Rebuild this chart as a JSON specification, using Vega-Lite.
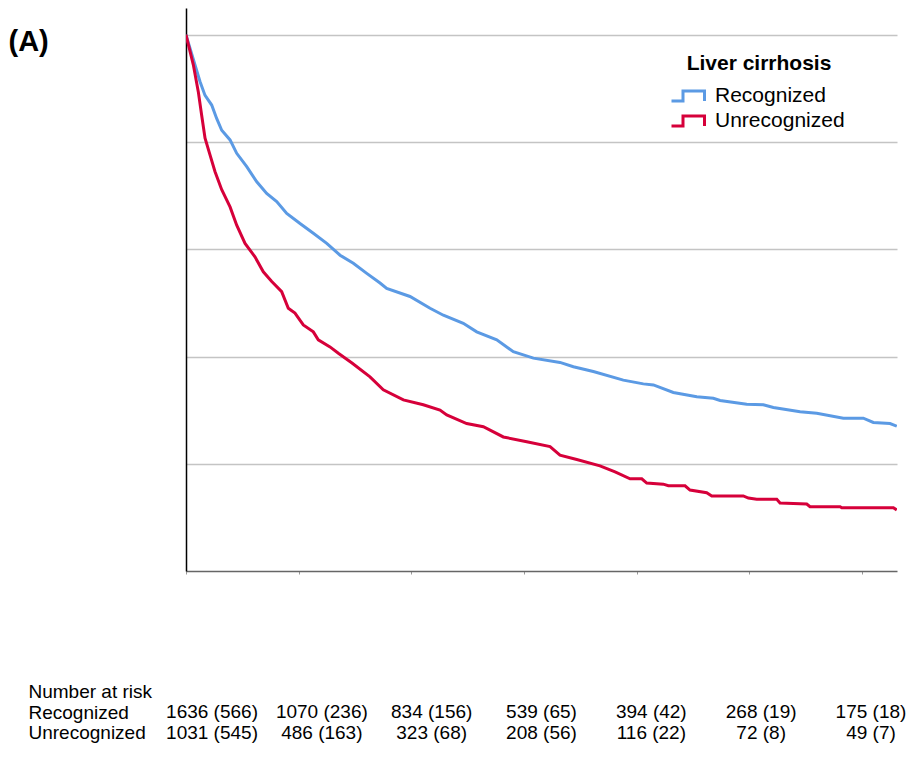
{
  "$schema": "https://vega.github.io/schema/vega-lite/v6.json",
  "padding": {"left": 8, "top": 8, "right": 5, "bottom": 5},
  "config": {"view": {"stroke": null}, "font": "Liberation Sans"},
  "spacing": 106,
  "datasets": {
    "km": [
      {"group": "Recognized", "years": 0, "survival": 1.0},
      {"group": "Recognized", "years": 0.08, "survival": 0.944},
      {"group": "Recognized", "years": 0.124, "survival": 0.913},
      {"group": "Recognized", "years": 0.169, "survival": 0.887},
      {"group": "Recognized", "years": 0.228, "survival": 0.869},
      {"group": "Recognized", "years": 0.272, "survival": 0.844},
      {"group": "Recognized", "years": 0.317, "survival": 0.822},
      {"group": "Recognized", "years": 0.391, "survival": 0.804},
      {"group": "Recognized", "years": 0.45, "survival": 0.779},
      {"group": "Recognized", "years": 0.539, "survival": 0.754},
      {"group": "Recognized", "years": 0.628, "survival": 0.726},
      {"group": "Recognized", "years": 0.716, "survival": 0.704},
      {"group": "Recognized", "years": 0.805, "survival": 0.689},
      {"group": "Recognized", "years": 0.894, "survival": 0.667},
      {"group": "Recognized", "years": 1.012, "survival": 0.648},
      {"group": "Recognized", "years": 1.13, "survival": 0.63},
      {"group": "Recognized", "years": 1.249, "survival": 0.611},
      {"group": "Recognized", "years": 1.367, "survival": 0.589},
      {"group": "Recognized", "years": 1.485, "survival": 0.574},
      {"group": "Recognized", "years": 1.604, "survival": 0.555},
      {"group": "Recognized", "years": 1.722, "survival": 0.537},
      {"group": "Recognized", "years": 1.781, "survival": 0.527},
      {"group": "Recognized", "years": 1.988, "survival": 0.512},
      {"group": "Recognized", "years": 2.166, "survival": 0.49},
      {"group": "Recognized", "years": 2.284, "survival": 0.477},
      {"group": "Recognized", "years": 2.461, "survival": 0.462},
      {"group": "Recognized", "years": 2.58, "survival": 0.446},
      {"group": "Recognized", "years": 2.758, "survival": 0.431},
      {"group": "Recognized", "years": 2.905, "survival": 0.409},
      {"group": "Recognized", "years": 3.083, "survival": 0.397},
      {"group": "Recognized", "years": 3.319, "survival": 0.389},
      {"group": "Recognized", "years": 3.438, "survival": 0.381},
      {"group": "Recognized", "years": 3.615, "survival": 0.372},
      {"group": "Recognized", "years": 3.881, "survival": 0.356},
      {"group": "Recognized", "years": 4.059, "survival": 0.349},
      {"group": "Recognized", "years": 4.148, "survival": 0.347},
      {"group": "Recognized", "years": 4.325, "survival": 0.333},
      {"group": "Recognized", "years": 4.533, "survival": 0.325},
      {"group": "Recognized", "years": 4.68, "survival": 0.322},
      {"group": "Recognized", "years": 4.74, "survival": 0.318},
      {"group": "Recognized", "years": 4.976, "survival": 0.311},
      {"group": "Recognized", "years": 5.124, "survival": 0.31},
      {"group": "Recognized", "years": 5.213, "survival": 0.305},
      {"group": "Recognized", "years": 5.45, "survival": 0.297},
      {"group": "Recognized", "years": 5.598, "survival": 0.294},
      {"group": "Recognized", "years": 5.834, "survival": 0.285},
      {"group": "Recognized", "years": 6.011, "survival": 0.285},
      {"group": "Recognized", "years": 6.1, "survival": 0.277},
      {"group": "Recognized", "years": 6.248, "survival": 0.275},
      {"group": "Recognized", "years": 6.308, "survival": 0.27},
      {"group": "Unrecognized", "years": 0, "survival": 1.0},
      {"group": "Unrecognized", "years": 0.065, "survival": 0.944},
      {"group": "Unrecognized", "years": 0.109, "survival": 0.894},
      {"group": "Unrecognized", "years": 0.139, "survival": 0.85},
      {"group": "Unrecognized", "years": 0.169, "survival": 0.807},
      {"group": "Unrecognized", "years": 0.213, "survival": 0.776},
      {"group": "Unrecognized", "years": 0.257, "survival": 0.745},
      {"group": "Unrecognized", "years": 0.317, "survival": 0.711},
      {"group": "Unrecognized", "years": 0.391, "survival": 0.679},
      {"group": "Unrecognized", "years": 0.45, "survival": 0.645},
      {"group": "Unrecognized", "years": 0.524, "survival": 0.611},
      {"group": "Unrecognized", "years": 0.612, "survival": 0.586},
      {"group": "Unrecognized", "years": 0.686, "survival": 0.558},
      {"group": "Unrecognized", "years": 0.761, "survival": 0.54},
      {"group": "Unrecognized", "years": 0.849, "survival": 0.521},
      {"group": "Unrecognized", "years": 0.908, "survival": 0.49},
      {"group": "Unrecognized", "years": 0.967, "survival": 0.481},
      {"group": "Unrecognized", "years": 1.041, "survival": 0.459},
      {"group": "Unrecognized", "years": 1.13, "survival": 0.446},
      {"group": "Unrecognized", "years": 1.174, "survival": 0.431},
      {"group": "Unrecognized", "years": 1.278, "survival": 0.418},
      {"group": "Unrecognized", "years": 1.352, "survival": 0.406},
      {"group": "Unrecognized", "years": 1.473, "survival": 0.388},
      {"group": "Unrecognized", "years": 1.633, "survival": 0.362},
      {"group": "Unrecognized", "years": 1.751, "survival": 0.338},
      {"group": "Unrecognized", "years": 1.929, "survival": 0.319},
      {"group": "Unrecognized", "years": 2.106, "survival": 0.31},
      {"group": "Unrecognized", "years": 2.254, "survival": 0.3},
      {"group": "Unrecognized", "years": 2.314, "survival": 0.291},
      {"group": "Unrecognized", "years": 2.491, "survival": 0.275},
      {"group": "Unrecognized", "years": 2.639, "survival": 0.269},
      {"group": "Unrecognized", "years": 2.816, "survival": 0.25},
      {"group": "Unrecognized", "years": 3.024, "survival": 0.241},
      {"group": "Unrecognized", "years": 3.231, "survival": 0.232},
      {"group": "Unrecognized", "years": 3.319, "survival": 0.216},
      {"group": "Unrecognized", "years": 3.468, "survival": 0.208},
      {"group": "Unrecognized", "years": 3.674, "survival": 0.196},
      {"group": "Unrecognized", "years": 3.808, "survival": 0.185},
      {"group": "Unrecognized", "years": 3.941, "survival": 0.172},
      {"group": "Unrecognized", "years": 4.045, "survival": 0.172},
      {"group": "Unrecognized", "years": 4.089, "survival": 0.164},
      {"group": "Unrecognized", "years": 4.236, "survival": 0.162},
      {"group": "Unrecognized", "years": 4.281, "survival": 0.159},
      {"group": "Unrecognized", "years": 4.429, "survival": 0.159},
      {"group": "Unrecognized", "years": 4.473, "survival": 0.151},
      {"group": "Unrecognized", "years": 4.621, "survival": 0.146},
      {"group": "Unrecognized", "years": 4.666, "survival": 0.14},
      {"group": "Unrecognized", "years": 4.946, "survival": 0.14},
      {"group": "Unrecognized", "years": 4.991, "survival": 0.136},
      {"group": "Unrecognized", "years": 5.065, "survival": 0.134},
      {"group": "Unrecognized", "years": 5.243, "survival": 0.134},
      {"group": "Unrecognized", "years": 5.272, "survival": 0.127},
      {"group": "Unrecognized", "years": 5.39, "survival": 0.126},
      {"group": "Unrecognized", "years": 5.509, "survival": 0.125},
      {"group": "Unrecognized", "years": 5.538, "survival": 0.12},
      {"group": "Unrecognized", "years": 5.805, "survival": 0.12},
      {"group": "Unrecognized", "years": 5.82, "survival": 0.118},
      {"group": "Unrecognized", "years": 6.278, "survival": 0.118},
      {"group": "Unrecognized", "years": 6.308, "survival": 0.114}
    ],
    "risk": [
      {"row": "Recognized", "year": 0, "label": "1636 (566)"},
      {"row": "Recognized", "year": 1, "label": "1070 (236)"},
      {"row": "Recognized", "year": 2, "label": "834 (156)"},
      {"row": "Recognized", "year": 3, "label": "539 (65)"},
      {"row": "Recognized", "year": 4, "label": "394 (42)"},
      {"row": "Recognized", "year": 5, "label": "268 (19)"},
      {"row": "Recognized", "year": 6, "label": "175 (18)"},
      {"row": "Unrecognized", "year": 0, "label": "1031 (545)"},
      {"row": "Unrecognized", "year": 1, "label": "486 (163)"},
      {"row": "Unrecognized", "year": 2, "label": "323 (68)"},
      {"row": "Unrecognized", "year": 3, "label": "208 (56)"},
      {"row": "Unrecognized", "year": 4, "label": "116 (22)"},
      {"row": "Unrecognized", "year": 5, "label": "72 (8)"},
      {"row": "Unrecognized", "year": 6, "label": "49 (7)"}
    ]
  },
  "vconcat": [
    {
      "width": 711,
      "height": 563,
      "data": {"name": "km"},
      "mark": {"type": "line", "strokeWidth": 3, "interpolate": "linear", "clip": true},
      "encoding": {
        "x": {
          "field": "years", "type": "quantitative",
          "scale": {"domain": [0, 6.31], "nice": false, "zero": false},
          "axis": {"values": [0, 1, 2, 3, 4, 5, 6], "labels": false, "title": null, "grid": false,
                   "tickSize": 3, "tickColor": "#999999", "domainColor": "#666666", "domainWidth": 1.5}
        },
        "y": {
          "field": "survival", "type": "quantitative",
          "scale": {"domain": [0, 1.05], "nice": false},
          "axis": {"values": [0.2, 0.4, 0.6, 0.8, 1.0], "labels": false, "ticks": false,
                   "grid": true, "gridColor": "#c4c4c4", "gridWidth": 1.5,
                   "domainColor": "#000000", "domainWidth": 1.5,
                   "title": "(A)", "titleAngle": 0, "titleX": -178, "titleY": 42,
                   "titleAlign": "left", "titleBaseline": "alphabetic",
                   "titleFontSize": 29, "titleFontWeight": "bold", "titleColor": "#000000"}
        },
        "color": {
          "field": "group", "type": "nominal",
          "scale": {"domain": ["Recognized", "Unrecognized"], "range": ["#5b9ae4", "#d6003a"]},
          "legend": {
            "title": "Liver cirrhosis", "orient": "none", "legendX": 488, "legendY": 45,
            "padding": 0, "titleFontSize": 21, "titleFontWeight": "bold", "titleColor": "#000000",
            "titleAnchor": "middle", "titleAlign": "center", "titlePadding": 8,
            "labelFontSize": 21, "labelColor": "#000000", "labelOffset": 13, "rowPadding": 0,
            "symbolType": "M-1.32,0.4H-0.4V-0.4H1.32V0.4", "symbolSize": 625, "symbolStrokeWidth": 3,
            "symbolFillColor": "transparent",
            "encode": {"symbols": {"update": {"fill": {"value": "transparent"}, "strokeWidth": {"value": 3}}}}
          }
        }
      }
    },
    {
      "width": 711,
      "height": 62,
      "data": {"name": "risk"},
      "mark": {"type": "text", "fontSize": 19, "align": "center", "baseline": "middle", "color": "#000000"},
      "encoding": {
        "x": {"field": "year", "type": "ordinal", "scale": {"type": "point", "padding": 0.237}, "axis": null},
        "y": {
          "field": "row", "type": "nominal",
          "scale": {"type": "point", "domain": ["Number at risk", "Recognized", "Unrecognized"], "padding": 0.5},
          "axis": {"title": null, "ticks": false, "domain": false, "grid": false,
                   "labelAlign": "left", "labelPadding": 158, "labelFontSize": 19, "labelColor": "#000000"}
        },
        "text": {"field": "label"}
      }
    }
  ]
}
